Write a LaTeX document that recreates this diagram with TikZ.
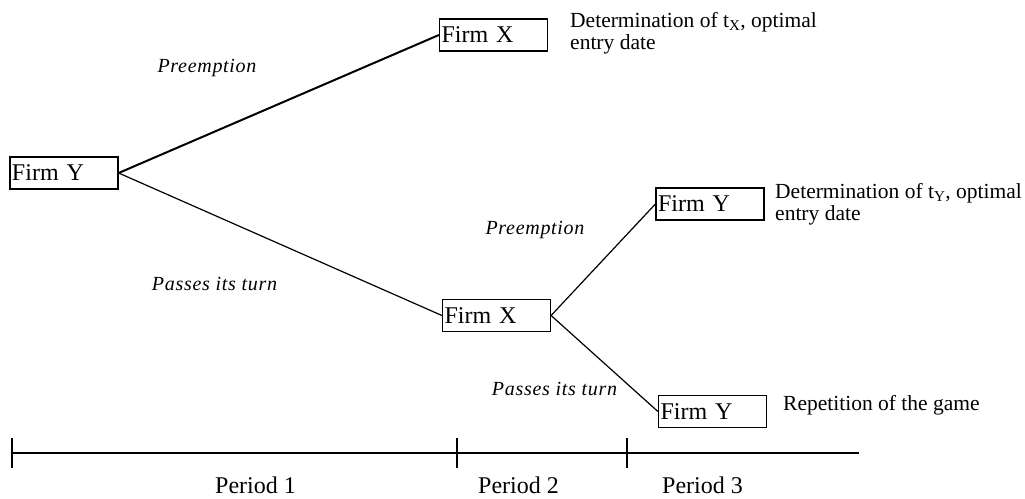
\documentclass[tikz,border=0pt]{standalone}
\usepackage{fontspec}
\setmainfont{Liberation Serif}
\begin{document}
\begin{tikzpicture}[x=1pt,y=-1pt,
  firm/.style={draw, line width=1.2pt, minimum width=108pt, minimum height=32pt,
    inner sep=0pt, text width=104pt, align=left, text depth=0pt,
    font=\fontsize{24}{28}\selectfont},
  lab/.style={anchor=base, inner sep=0pt,
    font=\fontsize{20}{24}\selectfont\itshape\addfontfeatures{LetterSpace=3.5}},
  note/.style={anchor=base west, inner sep=0pt, align=left,
    font=\fontsize{21.5}{22}\selectfont},
  period/.style={anchor=base, inner sep=0pt, font=\fontsize{24}{28}\selectfont},
  branch/.style={line width=1.2pt},
  axis/.style={line width=1.2pt}]
\useasboundingbox (0,0) rectangle (1025,498);

% boxes
\node[firm] (y1) at (64,173) {Firm Y};
\node[firm] (x1) at (493.5,35) {Firm X};
\node[firm] (x2) at (496.5,315.5) {Firm X};
\node[firm] (y2) at (710,204) {Firm Y};
\node[firm] (y3) at (712.5,411.5) {Firm Y};

% branches
\draw[branch, line width=2pt] (y1.east) -- (x1.west);
\draw[branch] (y1.east) -- (x2.west);
\draw[branch] (x2.east) -- (y2.west);
\draw[branch] (x2.east) -- (y3.west);

% branch labels
\node[lab] (p1) at (207,72) {Preemption};
\node[lab] (t1) at (214.5,290) {Passes its turn};
\node[lab] (p2) at (535,234) {Preemption};
\node[lab] (t2) at (554.5,395) {Passes its turn};

% notes (base anchor = baseline of the last line)
\node[note] (n1) at (570,49) {Determination of t\textsubscript{X}, optimal\\entry date};
\node[note] (n2) at (775,220) {Determination of t\textsubscript{Y}, optimal\\entry date};
\node[note] (n3) at (783,410) {Repetition of the game};

% time axis
\coordinate (a0) at (12,453);
\coordinate (a1) at (859,453);
\draw[axis] (a0) -- (a1);
\coordinate (k1) at (12,438);   \coordinate (k1b) at (12,468);
\coordinate (k2) at (457,438);  \coordinate (k2b) at (457,468);
\coordinate (k3) at (627,438);  \coordinate (k3b) at (627,468);
\draw[axis] (k1) -- (k1b);
\draw[axis] (k2) -- (k2b);
\draw[axis] (k3) -- (k3b);

\node[period] (pp1) at (255.5,493) {Period 1};
\node[period] (pp2) at (518.5,493) {Period 2};
\node[period] (pp3) at (702.5,493) {Period 3};
\end{tikzpicture}
\end{document}
